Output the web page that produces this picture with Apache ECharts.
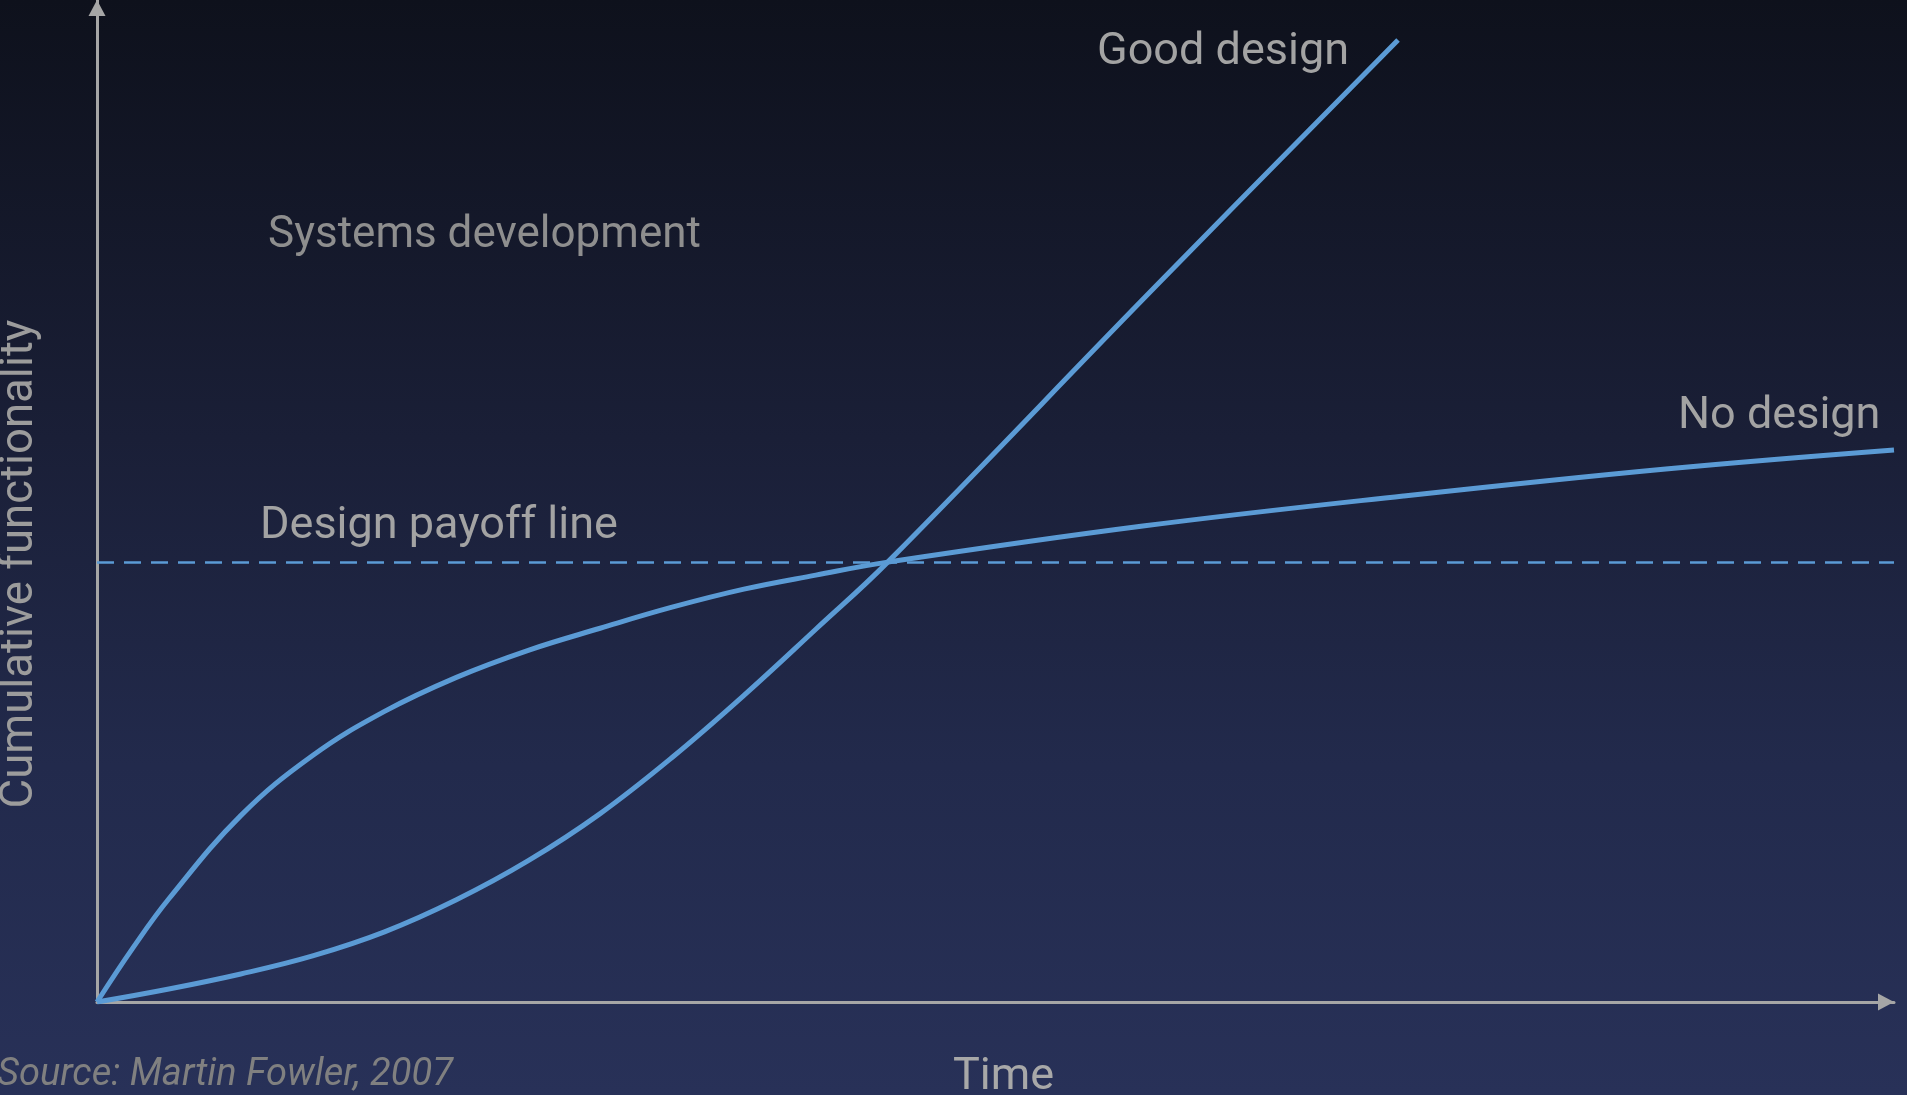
<!DOCTYPE html>
<html>
<head>
<meta charset="utf-8">
<script src="https://cdn.jsdelivr.net/npm/echarts@6/dist/echarts.min.js"></script>
<style>
html,body{margin:0;padding:0;width:1907px;height:1095px;overflow:hidden;}
#chart{width:1907px;height:1095px;background:linear-gradient(to bottom,#0e111c 0%,#1a1f37 40%,#222a4c 70%,#283158 100%);}
</style>
</head>
<body>
<div id="chart"></div>
<script>
// Time (0-100) vs cumulative functionality (0-100)
const noDesign = [
  [0,0],[2,5.4],[4,10.3],[8,18.6],[12,24.6],[16,29.0],[20,32.4],[24,35.1],
  [28,37.3],[32,39.4],[36,41.2],[40,42.6],[44,43.9],[58.2,47.5],[72.7,50.5],[87.3,53.2],[100,55.1]
];
const goodDesign = [
  [0,0],[4,1.3],[8,2.8],[12,4.6],[16,7.0],[20,10.2],[24,14.1],[28,18.8],
  [32,24.4],[36,30.6],[40,37.2],[44,43.9],[58.9,71.4],[72.4,96.0]
];
const payoffLevel = 43.9;

const labels = {
  good: 'Good design',
  none: 'No design',
  systems: 'Systems development',
  payoff: 'Design payoff line',
  yName: 'Cumulative functionality',
  xName: 'Time',
  source: 'Source: Martin Fowler, 2007'
};

const chart = echarts.init(document.getElementById('chart'), null, {renderer:'canvas'});
const FONT = 'Roboto, "Noto Sans", sans-serif';
const lineColor = '#5b9bd5';
const axisColor = '#a6a6a6';

function txt(text, x, y, size, color, extra) {
  return Object.assign({
    type: 'text', x: x, y: y, silent: true,
    style: {
      text: text, fill: color,
      font: (extra && extra.italic ? 'italic ' : '') + size + 'px ' + FONT,
      align: (extra && extra.align) || 'left', verticalAlign: 'middle'
    }
  }, extra && extra.rotation ? {rotation: extra.rotation} : {});
}

const axisBase = {
  type: 'value', min: 0, max: 100,
  axisLine: {show: true, lineStyle: {color: axisColor, width: 3},
    symbol: ['none','triangle'], symbolSize: [17,16], symbolOffset: [0,-8]},
  axisTick: {show: false}, axisLabel: {show: false}, splitLine: {show: false}
};

chart.setOption({
  backgroundColor: 'transparent',
  animation: false,
  grid: {left: 97, right: 13, top: 0, bottom: 93},
  xAxis: axisBase,
  yAxis: axisBase,
  series: [
    {
      name: labels.none, type: 'line', data: noDesign, smooth: 0.4, symbol: 'none',
      lineStyle: {color: lineColor, width: 5}, z: 3,
      markLine: {
        silent: true, symbol: ['none','none'], label: {show: false},
        lineStyle: {color: lineColor, width: 2.5, type: [17,10]},
        data: [{yAxis: payoffLevel}]
      }
    },
    {
      name: labels.good, type: 'line', data: goodDesign, smooth: 0.4, symbol: 'none',
      lineStyle: {color: lineColor, width: 5}, z: 3
    }
  ],
  graphic: [
    txt(labels.good, 1097, 53, 45, '#a3a3a3'),
    txt(labels.none, 1678, 417, 45, '#a3a3a3'),
    txt(labels.systems, 268, 236, 44, '#8e8e8e'),
    txt(labels.payoff, 260, 527, 45, '#a3a3a3'),
    txt(labels.yName, 21, 564, 45.5, '#9c9c9c', {rotation: Math.PI/2, align: 'center'}),
    txt(labels.xName, 953, 1078, 45, '#a8a8a8'),
    txt(labels.source, -3, 1075, 38, '#808080', {italic: true})
  ]
});
</script>
</body>
</html>
